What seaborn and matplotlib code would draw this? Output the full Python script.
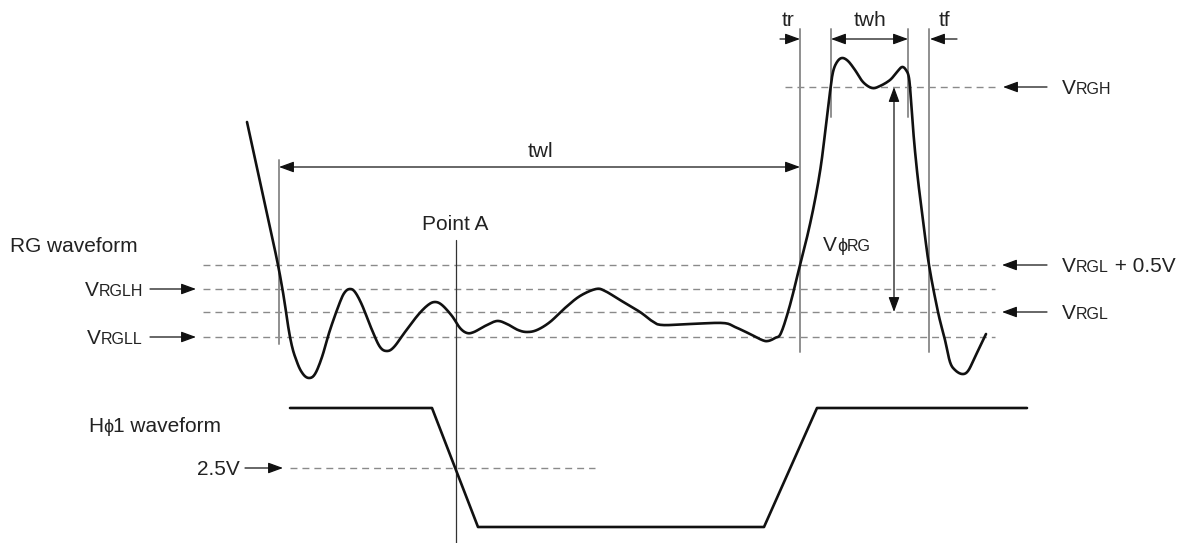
import numpy as np
import pandas as pd
import matplotlib
matplotlib.use("Agg")
import matplotlib.pyplot as plt
from matplotlib.patches import FancyArrowPatch, ArrowStyle
import seaborn as sns

# ---------------- data (pixel space) ----------------
rg_x = [247, 278, 290, 297, 303, 309, 315, 322, 330, 340, 345, 350, 355, 362, 372, 380, 387,
        394, 405, 418, 428, 435, 442, 452, 460, 467, 474, 485, 497, 507, 518, 527, 537, 550,
        565, 580, 596, 605, 620, 640, 652, 662, 690, 723, 735, 750, 762, 768, 775, 781, 790,
        800, 808, 815, 821, 826, 830, 833, 837, 842, 848, 855, 863, 872, 880, 890, 897, 902,
        906, 909, 911, 914, 918, 923, 929, 938, 945, 950, 955, 962, 968, 975, 983, 986]
rg_y = [122, 265, 337, 362, 374, 378, 374, 357, 330, 302, 292, 289, 292, 305, 330, 347, 351,
        347, 332, 315, 305, 302, 305, 316, 328, 333, 332, 326, 321, 324, 330, 332, 330, 322,
        308, 296, 289, 291, 300, 312, 321, 325, 324, 323, 327, 334, 340, 341, 338, 333, 305,
        265, 233, 200, 165, 125, 92, 72, 62, 58, 61, 70, 82, 88, 86, 80, 72, 67,
        70, 78, 100, 140, 180, 220, 265, 312, 340, 362, 370, 374, 371, 357, 340, 334]

h1_x = [290, 432, 478, 764, 817, 1027]
h1_y = [408, 408, 527, 527, 408, 408]

level_names = ["VRGH", "VRGL + 0.5V", "VRGLH", "VRGL", "VRGLL"]
level_y = [87, 265, 289, 312, 337]

W, H = 1187, 543

sns.set_theme(style="white")
plt.rcParams["font.family"] = ["Liberation Sans", "DejaVu Sans"]

fig = plt.figure(figsize=(W / 100, H / 100), dpi=100)
ax = fig.add_axes([0, 0, 1, 1])
ax.set_xlim(0, W)
ax.set_ylim(H, 0)
ax.axis("off")


def catmull(xs, ys, n=10):
    p = np.column_stack([xs, ys]).astype(float)
    out = []
    for i in range(len(p) - 1):
        p0 = p[i - 1] if i > 0 else p[i]
        p1, p2 = p[i], p[i + 1]
        p3 = p[i + 2] if i + 2 < len(p) else p[i + 1]
        for t in np.linspace(0, 1, n, endpoint=False):
            t2, t3 = t * t, t * t * t
            pt = 0.5 * ((2 * p1) + (-p0 + p2) * t + (2 * p0 - 5 * p1 + 4 * p2 - p3) * t2
                        + (-p0 + 3 * p1 - 3 * p2 + p3) * t3)
            out.append(pt)
    out.append(p[-1])
    out = np.array(out)
    return out[:, 0], out[:, 1]


GRAY = "#8a8a8a"
DASH = (0, (5, 3.6))

# dashed reference levels
for name, yv in zip(level_names, level_y):
    if name == "VRGH":
        ax.plot([785, 1000], [yv, yv], color=GRAY, lw=1, ls=DASH)
    else:
        ax.plot([203, 995], [yv, yv], color=GRAY, lw=1, ls=DASH)
ax.plot([290, 595], [468, 468], color=GRAY, lw=1, ls=DASH)

# vertical gray marker lines
for xv, y0, y1 in [(279, 160, 344), (800, 29, 352), (831, 29, 117), (908, 29, 117), (929, 29, 352)]:
    ax.plot([xv, xv], [y0, y1], color="#8f8f8f", lw=1.4)
# Point A
ax.plot([456, 456], [240, 543], color="#333333", lw=0.9)

# waveforms
sx, sy = catmull(rg_x, rg_y)
sns.lineplot(x=sx, y=sy, sort=False, estimator=None, color="#111111", lw=1.9, ax=ax)
sns.lineplot(x=h1_x, y=h1_y, sort=False, estimator=None, color="#111111", lw=1.9, ax=ax)


def arrow(x0, y0, x1, y1, double=False):
    style = ArrowStyle("<|-|>" if double else "-|>", head_length=9, head_width=3.3)
    a = FancyArrowPatch((x0, y0), (x1, y1), arrowstyle=style, mutation_scale=1,
                        shrinkA=0, shrinkB=0, color="#111111", lw=0.9)
    ax.add_patch(a)


arrow(279, 167, 800, 167, double=True)        # twl
arrow(780, 39, 800, 39)                       # tr
arrow(831, 39, 908, 39, double=True)          # twh
arrow(957, 39, 930, 39)                       # tf
arrow(894, 87, 894, 312, double=True)         # VphiRG
arrow(1047, 87, 1003, 87)
arrow(1047, 265, 1002, 265)
arrow(1047, 312, 1002, 312)
arrow(150, 289, 196, 289)
arrow(150, 337, 196, 337)
arrow(245, 468, 283, 468)

renderer = fig.canvas.get_renderer()
BIG, SMALL = 15, 11.5
TXT = "#222222"


def rich(x, yc, parts, ha="left"):
    widths = []
    for s, sz in parts:
        t = ax.text(0, 0, s, fontsize=sz)
        widths.append(t.get_window_extent(renderer).width)
        t.remove()
    total = sum(widths)
    x0 = x if ha == "left" else (x - total if ha == "right" else x - total / 2)
    base = yc + 0.716 * BIG * 100 / 72 / 2
    for (s, sz), w in zip(parts, widths):
        ax.text(x0, base, s, fontsize=sz, va="baseline", ha="left", color=TXT)
        x0 += w


def plain(x, yc, s, ha="left"):
    rich(x, yc, [(s, BIG)], ha=ha)


plain(10, 245, "RG waveform")
rich(143, 289, [("V", BIG), ("RGLH", SMALL)], ha="right")
rich(143, 337, [("V", BIG), ("RGLL", SMALL)], ha="right")
rich(1062, 87, [("V", BIG), ("RGH", SMALL)])
rich(1062, 265, [("V", BIG), ("RGL", SMALL), (" + 0.5V", BIG)])
rich(1062, 312, [("V", BIG), ("RGL", SMALL)])
rich(823, 244, [("V", BIG), ("ϕ", 13), ("RG", SMALL)])
rich(88, 425, [("H", BIG), ("ϕ", 13), ("1 waveform", BIG)])
plain(240, 468, "2.5V", ha="right")
plain(455, 223, "Point A", ha="center")
plain(540, 150, "twl", ha="center")
plain(788, 19, "tr", ha="center")
plain(870, 19, "twh", ha="center")
plain(944, 19, "tf", ha="center")

fig.savefig("out.png", dpi=100)
